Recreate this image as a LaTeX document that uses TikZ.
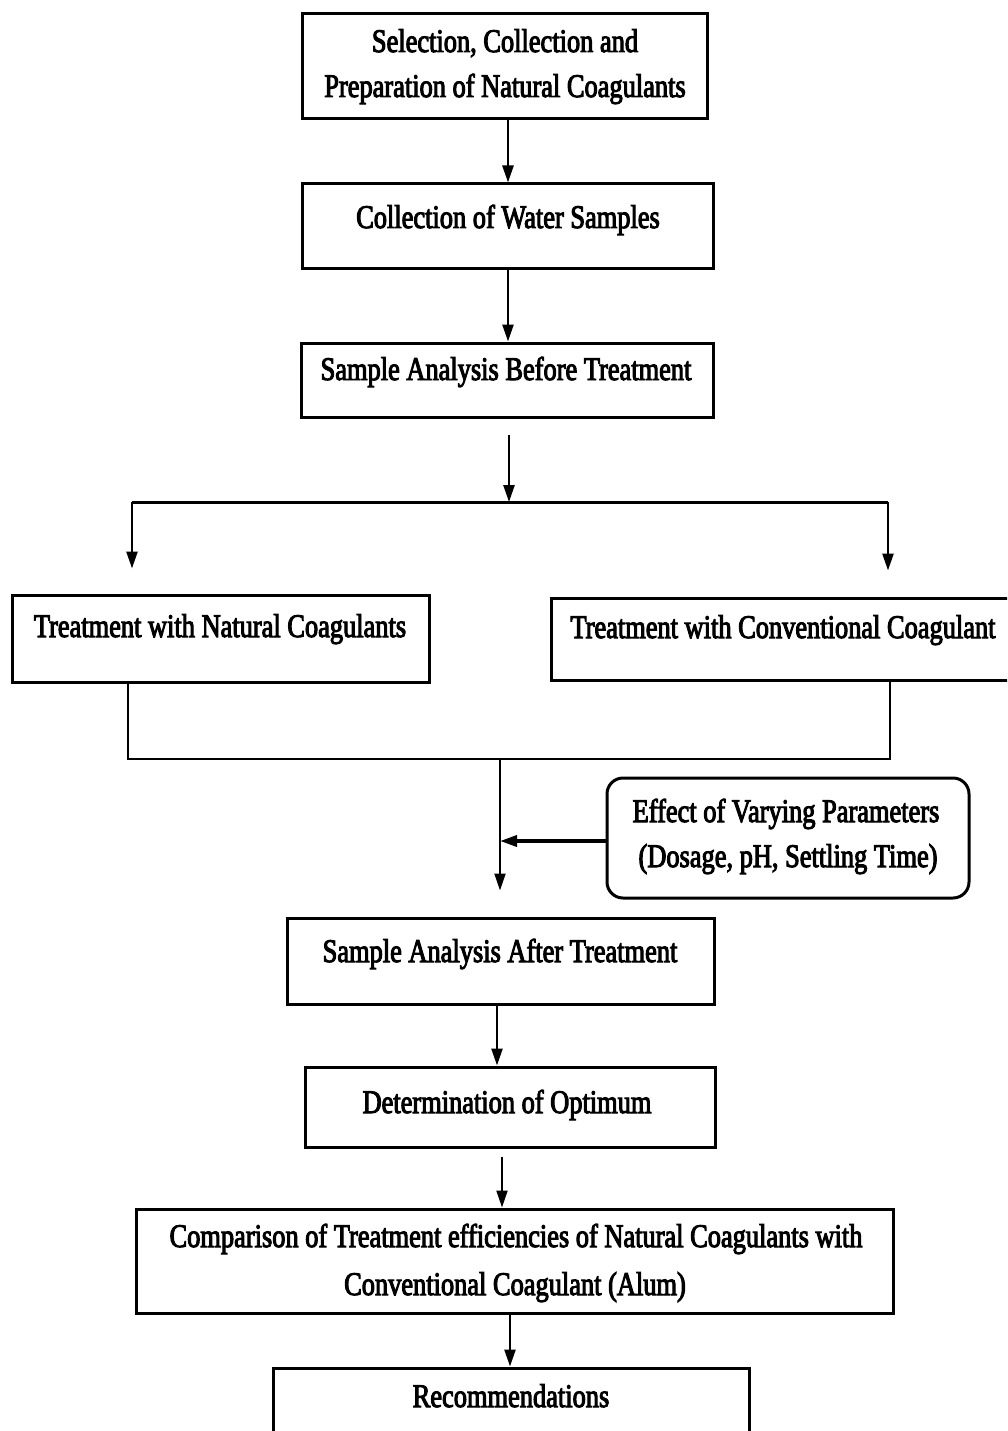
\documentclass[tikz,border=0pt]{standalone}
\usepackage{fontspec}
\setmainfont{Liberation Serif}[FakeStretch=0.8,FakeBold=3]
\usetikzlibrary{arrows.meta,calc}
\begin{document}
\begin{tikzpicture}[x=1pt,y=-1pt,
  box/.style={draw=black,line width=3pt,rectangle,inner sep=0pt,fill=none},
  rbox/.style={box,rounded corners=16pt},
  txt/.style={inner sep=0pt,anchor=base,font=\fontsize{33}{40}\selectfont},
  conn/.style={draw=black,line width=2.5pt},
  thin/.style={draw=black,line width=1.8pt},
  arr/.style={conn,-{Triangle[length=17pt,width=11pt]}}
]
\useasboundingbox (0,0) rectangle (1007,1431);
\fill[white] (0,0) rectangle (1007,1431);
\clip (0,0) rectangle (1007,1431);

% boxes
\node[box,minimum width=405pt,minimum height=105pt] (b1) at (504.5,66.5) {};
\node[box,minimum width=411pt,minimum height=84pt] (b2) at (507.5,226) {};
\node[box,minimum width=412pt,minimum height=74pt] (b3) at (507,380) {};
\node[box,minimum width=417pt,minimum height=87pt] (tl) at (220.5,638.5) {};
\node[box,minimum width=460pt,minimum height=82pt] (tr) at (781,639) {};
\node[rbox,minimum width=362pt,minimum height=120pt] (eff) at (788,838) {};
\node[box,minimum width=427pt,minimum height=86pt] (aft) at (500.5,961) {};
\node[box,minimum width=410pt,minimum height=80pt] (det) at (510,1107) {};
\node[box,minimum width=757pt,minimum height=104pt] (cmp) at (515,1261) {};
\node[box,minimum width=476pt,minimum height=100pt] (rec) at (511,1418) {};

% texts
\node[txt] (t1a) at (505,52) {Selection, Collection and};
\node[txt] (t1b) at (505,97) {Preparation of Natural Coagulants};
\node[txt] (t2) at (508,228) {Collection of Water Samples};
\node[txt] (t3) at (506,380) {Sample Analysis Before Treatment};
\node[txt] (ttl) at (220,637) {Treatment with Natural Coagulants};
\node[txt] (ttr) at (783,638) {Treatment with Conventional Coagulant};
\node[txt] (te1) at (786,822) {Effect of Varying Parameters};
\node[txt] (te2) at (788,867) {(Dosage, pH, Settling Time)};
\node[txt] (taf) at (500,962) {Sample Analysis After Treatment};
\node[txt] (tdt) at (507,1113) {Determination of Optimum};
\node[txt] (tc1) at (516,1247) {Comparison of Treatment efficiencies of Natural Coagulants with};
\node[txt] (tc2) at (515,1295) {Conventional Coagulant (Alum)};
\node[txt] (trc) at (511,1407) {Recommendations};

% junction coordinates
\coordinate (sp) at (509,502);
\coordinate (spL) at (132,502);
\coordinate (spR) at (888,502);
\coordinate (mgL) at (128,759);
\coordinate (mgR) at (890,759);
\coordinate (mg) at (500,759);
\coordinate (ej) at (500,841);

% connectors
\draw[arr] ($(b1.south)+(3.5,0)$) -- ($(b2.north)+(0.5,0)$);
\draw[arr] ($(b2.south)+(0.5,0)$) -- ($(b3.north)+(1,0)$);
\draw[arr] ($(b3.south)+(2,16)$) -- (sp);
\draw[conn,line width=3pt] (spL) -- (spR);
\draw[arr,shorten >=25pt] (spL) -- (spL |- tl.north);
\draw[arr,shorten >=26pt] (spR) -- (spR |- tr.north);
\draw[thin] (mgL |- tl.south) -- (mgL) -- (mgR) -- (mgR |- tr.south);
\draw[arr,line width=2pt,shorten >=26pt] (mg) -- (mg |- aft.north);
\draw[arr,line width=3.5pt] (eff.west |- ej) -- (ej);
\draw[arr] ($(aft.south)+(-3.5,0)$) -- ($(det.north)+(-13,0)$);
\draw[arr,line width=2pt] ($(det.south)+(-8,8)$) -- ($(cmp.north)+(-13,0)$);
\draw[arr] ($(cmp.south)+(-5,0)$) -- ($(rec.north)+(-1,0)$);
\end{tikzpicture}
\end{document}
